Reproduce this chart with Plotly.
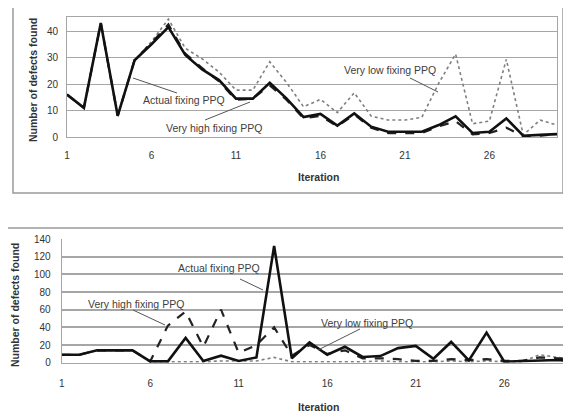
import plotly.graph_objects as go

iterations = list(range(1, 31))

top_actual = [16, 11, 43, 8, 29, 35, 41.5, 31, 25.5, 21.5, 14.5, 14.5, 20.5, 14.5, 7.5,
              8.7, 4.3, 8.9, 3.9, 2, 2, 2, 4.5, 7.8, 1.5, 2, 7, 0.5, 0.8, 1.1]
top_very_high = [16, 11, 43, 8, 29, 35.5, 42.5, 31.5, 26, 21, 14, 14.5, 19.5, 14, 7,
                 8, 4, 8.5, 3.5, 1.5, 1.5, 1.5, 4, 6, 1, 1.5, 3.5, 0.3, 0.5, 1]
top_very_low = [16, 11, 43, 8, 29, 36, 44.5, 33.5, 29.5, 24.5, 17.7, 17.7, 28.4, 20.5, 11.4,
                14.2, 9.2, 16.7, 7.9, 6.4, 6.4, 7.4, 20.3, 31.3, 5, 6, 29.3, 0.8, 6.4, 4.5]

bot_actual = [9, 9, 14, 14, 14, 1.5, 1.5, 28, 2, 8, 2, 6, 132, 5, 23,
              9, 18, 6.5, 7.5, 16.5, 19, 4.5, 23.5, 2.5, 34, 1.2, 1.8, 3, 3, 2]
bot_very_high = [9, 9, 14, 14, 14, 1.5, 42, 58, 18, 60, 11, 20, 40, 8, 20,
                 10, 14, 5, 5, 4, 2, 2, 4, 3, 4, 2, 2, 6, 5, 4]
bot_very_low = [9, 9, 14, 14, 14, 1, 1, 1, 1, 2, 2, 2, 6, 1, 1,
                1, 1, 1, 2, 1, 1, 1, 2, 1, 2, 1, 1, 9, 6, 3]

x_ticks = [1, 6, 11, 16, 21, 26]
top_y_ticks = [0, 10, 20, 30, 40]
bot_y_ticks = [0, 20, 40, 60, 80, 100, 120, 140]

# page body has an 8px default margin; the figure sits at (8, 8)
OFF = 8
W, H = 571 - OFF, 420 - OFF
FONT = "Liberation Sans"

def px(x):
    return (x - OFF) / W

def py(y):
    return 1 - (y - OFF) / H

fig = go.Figure()

def add_series(xa, ya, actual, high, low):
    fig.add_trace(go.Scatter(x=iterations, y=low, mode="lines", xaxis=xa, yaxis=ya,
                             line=dict(color="#7f7f7f", width=1.6, dash="dot"),
                             name="Very low fixing PPQ", showlegend=False))
    fig.add_trace(go.Scatter(x=iterations, y=high, mode="lines", xaxis=xa, yaxis=ya,
                             line=dict(color="#222222", width=2.2, dash="dash"),
                             name="Very high fixing PPQ", showlegend=False))
    fig.add_trace(go.Scatter(x=iterations, y=actual, mode="lines", xaxis=xa, yaxis=ya,
                             line=dict(color="#111111", width=2.6),
                             name="Actual fixing PPQ", showlegend=False))

add_series("x", "y", top_actual, top_very_high, top_very_low)
add_series("x2", "y2", bot_actual, bot_very_high, bot_very_low)

tickfont = dict(family=FONT, size=10, color="#333333")
grid = "#a6a6a6"

fig.update_layout(
    template="none",
    width=W, height=H,
    margin=dict(l=0, r=0, t=0, b=0, pad=0),
    paper_bgcolor="white", plot_bgcolor="white",
    xaxis=dict(domain=[px(67), px(557)], range=[1, 30], tickvals=x_ticks,
               automargin=False,
               showgrid=False, zeroline=False, showline=True, linecolor=grid,
               mirror=True, ticks="outside", ticklen=9, tickcolor="rgba(0,0,0,0)",
               tickfont=tickfont, anchor="y"),
    yaxis=dict(domain=[py(137), py(17)], range=[0, 45.3], tickvals=top_y_ticks,
               automargin=False,
               showgrid=True, gridcolor=grid, gridwidth=1, zeroline=False,
               showline=True, linecolor=grid, mirror=True,
               ticks="outside", ticklen=6, tickcolor="rgba(0,0,0,0)",
               tickfont=tickfont, anchor="x"),
    xaxis2=dict(domain=[px(61.7), 1.0], range=[1, 29.77], tickvals=x_ticks,
                automargin=False,
                showgrid=False, zeroline=False, showline=True, linecolor=grid,
                ticks="outside", ticklen=11, tickcolor="rgba(0,0,0,0)",
                tickfont=tickfont, anchor="y2"),
    yaxis2=dict(domain=[py(362.7), py(239)], range=[0, 140], tickvals=bot_y_ticks,
                automargin=False,
                showgrid=True, gridcolor=grid, gridwidth=1.5, zeroline=False,
                showline=True, linecolor=grid,
                ticks="outside", ticklen=8, tickcolor="rgba(0,0,0,0)",
                tickfont=tickfont, anchor="x2"),
)

# chart borders
fig.add_shape(type="rect", xref="paper", yref="paper",
              x0=px(13), x1=px(563), y0=py(193), y1=py(7),
              line=dict(color="#9a9a9a", width=1.5), layer="below")
fig.add_shape(type="rect", xref="paper", yref="paper",
              x0=px(2), x1=px(590), y0=py(440), y1=py(228),
              line=dict(color="#9a9a9a", width=1.5), layer="below")

title_font = dict(family=FONT, size=10.5, color="#333333")
lab_font = dict(family=FONT, size=10.5, color="#404040")

annos = [
    dict(text="<b>Number of defects found</b>", x=px(33), y=py(80), textangle=-90),
    dict(text="<b>Iteration</b>", x=px(318), y=py(177)),
    dict(text="<b>Number of defects found</b>", x=px(15), y=py(305), textangle=-90),
    dict(text="<b>Iteration</b>", x=px(318), y=py(407)),
]
for a in annos:
    fig.add_annotation(xref="paper", yref="paper", showarrow=False,
                       font=title_font, xanchor="center", yanchor="middle", **a)

labels = [
    ("Actual fixing PPQ", 184, 100, (133, 78), (177, 93)),
    ("Very high fixing PPQ", 214, 128, (250, 102), (205, 120)),
    ("Very low fixing PPQ", 390, 70, (410, 78), (438, 92)),
    ("Actual fixing PPQ", 219, 268, (240, 279), (263, 290)),
    ("Very high fixing PPQ", 136, 304, (133, 310), (165, 325)),
    ("Very low fixing PPQ", 367, 323, (360, 329), (318, 350)),
]
for text, cx, cy, p0, p1 in labels:
    fig.add_annotation(xref="paper", yref="paper", showarrow=False, text=text,
                       x=px(cx), y=py(cy), xanchor="center", yanchor="middle",
                       font=lab_font)
    fig.add_shape(type="line", xref="paper", yref="paper",
                  x0=px(p0[0]), y0=py(p0[1]), x1=px(p1[0]), y1=py(p1[1]),
                  line=dict(color="#555555", width=1))

fig.write_html("out.html")
